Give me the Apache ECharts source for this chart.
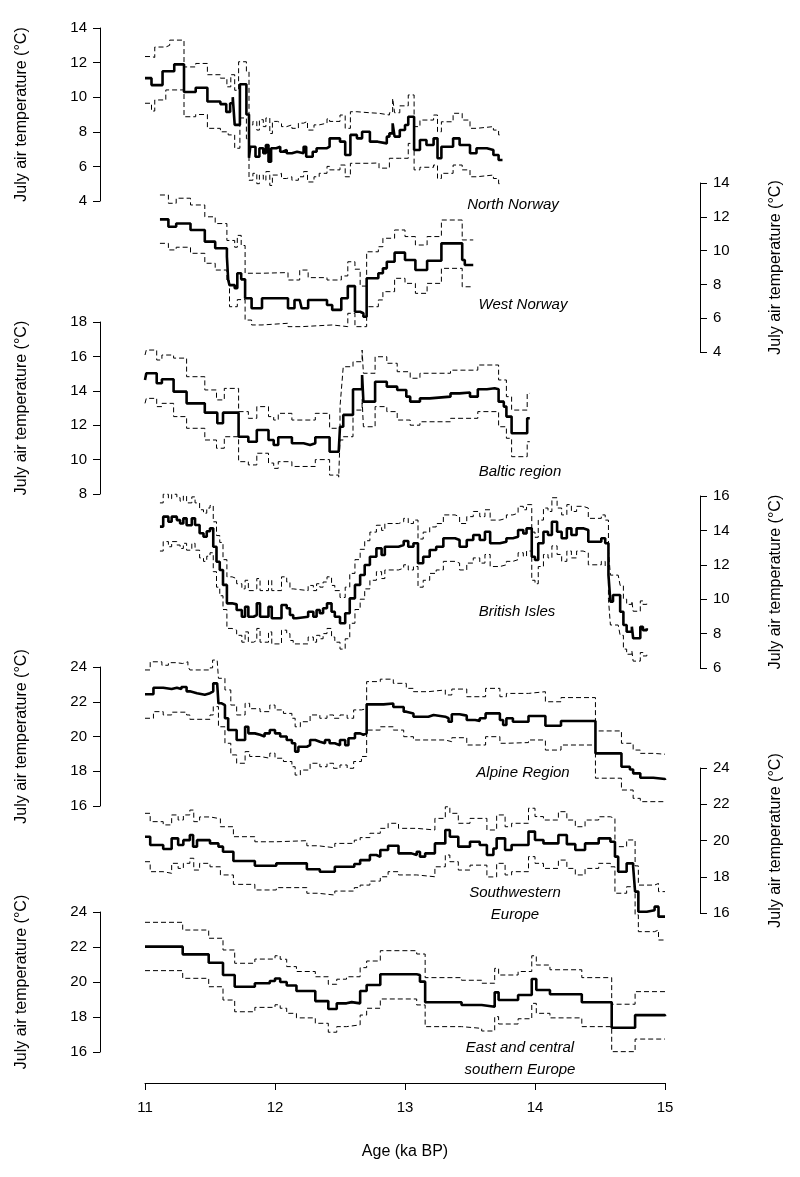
<!DOCTYPE html>
<html>
<head>
<meta charset="utf-8">
<script src="https://cdn.jsdelivr.net/npm/echarts@6/dist/echarts.min.js"></script>
<style>
  html, body { margin: 0; padding: 0; background: #fff; }
  #chart { width: 800px; height: 1177px; }
</style>
</head>
<body>
<div id="chart"></div>
<script>
// [age (ka BP), July air temperature (°C)] step values
const nnMean = [[11.00,11.1],[11.05,10.7],[11.135,11.5],[11.225,11.9],[11.30,10.3],[11.39,10.55],[11.48,9.75],[11.58,9.6],[11.625,9.15],[11.655,9.65],[11.675,10.0],[11.69,8.4],[11.73,10.75],[11.78,9.0],[11.80,6.5],[11.81,7.14],[11.85,6.56],[11.88,7.05],[11.91,6.76],[11.93,7.24],[11.95,6.27],[11.97,7.05],[12.01,7.14],[12.04,6.85],[12.06,6.95],[12.09,6.76],[12.13,6.85],[12.17,6.76],[12.22,7.14],[12.24,6.56],[12.29,6.85],[12.32,7.05],[12.40,7.14],[12.42,7.62],[12.50,7.43],[12.54,6.66],[12.58,7.82],[12.63,7.62],[12.67,8.0],[12.73,7.43],[12.79,7.33],[12.86,7.72],[12.88,7.91],[12.905,8.49],[12.92,7.72],[12.96,8.1],[13.0,8.39],[13.025,8.87],[13.07,6.95],[13.115,7.53],[13.165,7.24],[13.22,7.62],[13.25,6.47],[13.28,7.14],[13.37,7.62],[13.42,7.24],[13.5,6.76],[13.55,7.05],[13.63,6.95],[13.68,6.66],[13.72,6.37],[13.75,6.37]];
const nnUpper = [[11.00,12.35],[11.05,12.3],[11.075,12.9],[11.16,13.0],[11.19,13.3],[11.30,11.75],[11.39,11.95],[11.48,11.3],[11.58,11.1],[11.63,10.6],[11.66,11.3],[11.69,10.4],[11.72,12.05],[11.78,11.5],[11.80,8.4],[11.83,8.6],[11.86,8.1],[11.88,8.7],[11.91,8.3],[11.93,8.8],[11.96,7.9],[11.98,8.6],[12.02,8.5],[12.05,8.3],[12.09,8.4],[12.13,8.2],[12.18,8.5],[12.22,8.6],[12.25,8.1],[12.30,8.4],[12.34,8.5],[12.40,8.75],[12.42,8.6],[12.50,8.97],[12.54,8.2],[12.58,9.16],[12.63,9.1],[12.73,9.07],[12.80,8.97],[12.88,9.1],[12.905,9.93],[12.92,9.1],[12.96,9.5],[13.025,10.13],[13.07,8.3],[13.115,8.68],[13.22,8.97],[13.25,8.0],[13.28,8.58],[13.37,9.07],[13.44,8.68],[13.5,8.2],[13.55,8.3],[13.68,8.1],[13.72,7.82],[13.75,7.82]];
const nnLower = [[11.00,9.65],[11.05,9.2],[11.075,9.84],[11.16,10.42],[11.30,8.87],[11.39,9.0],[11.48,8.2],[11.58,8.0],[11.64,7.82],[11.69,7.05],[11.73,8.8],[11.78,7.6],[11.80,5.2],[11.83,5.6],[11.86,5.0],[11.88,5.5],[11.91,5.2],[11.93,5.7],[11.96,4.9],[11.98,5.5],[12.02,5.6],[12.05,5.3],[12.09,5.4],[12.13,5.2],[12.18,5.4],[12.22,5.7],[12.25,5.1],[12.30,5.4],[12.34,5.6],[12.40,6.0],[12.42,5.8],[12.50,6.08],[12.54,5.4],[12.58,6.18],[12.73,6.2],[12.80,5.9],[12.88,6.47],[12.96,6.47],[13.025,7.33],[13.07,5.8],[13.115,5.95],[13.22,6.08],[13.25,5.3],[13.28,5.6],[13.37,6.08],[13.44,5.8],[13.5,5.4],[13.55,5.5],[13.68,5.3],[13.72,5.0],[13.75,5.0]];

const wnMean = [[11.115,11.85],[11.18,11.41],[11.24,11.6],[11.35,11.22],[11.46,10.53],[11.54,10.14],[11.63,9.64],[11.64,8.26],[11.65,7.96],[11.69,7.77],[11.71,8.66],[11.74,8.3],[11.77,7.18],[11.82,6.59],[11.90,7.18],[12.10,6.59],[12.15,7.08],[12.19,7.18],[12.205,6.59],[12.255,7.08],[12.40,6.78],[12.44,6.49],[12.51,7.18],[12.56,7.9],[12.615,6.38],[12.655,6.29],[12.68,6.09],[12.705,8.36],[12.795,8.66],[12.83,8.95],[12.86,9.34],[12.92,9.88],[13.0,9.44],[13.08,8.85],[13.17,9.4],[13.28,10.43],[13.44,9.44],[13.46,9.15],[13.525,9.15]];
const wnUpper = [[11.115,13.29],[11.18,12.8],[11.24,13.1],[11.35,12.7],[11.46,12.0],[11.54,11.6],[11.63,10.6],[11.69,10.2],[11.71,10.9],[11.74,10.3],[11.77,8.66],[11.90,8.7],[12.10,8.26],[12.19,8.85],[12.255,8.4],[12.40,8.26],[12.51,8.5],[12.56,9.34],[12.615,8.9],[12.655,7.9],[12.705,9.93],[12.795,10.23],[12.83,10.73],[12.92,11.22],[13.0,10.83],[13.08,10.33],[13.17,10.83],[13.28,11.81],[13.44,10.63],[13.525,10.63]];
const wnLower = [[11.115,10.43],[11.18,10.04],[11.24,10.2],[11.35,9.84],[11.46,9.25],[11.54,8.85],[11.63,8.26],[11.65,6.68],[11.71,7.1],[11.77,5.89],[11.82,5.6],[11.90,5.7],[12.10,5.5],[12.205,5.6],[12.44,5.5],[12.56,6.29],[12.615,5.5],[12.705,6.68],[12.795,7.08],[12.83,7.57],[12.92,8.36],[13.0,8.06],[13.08,7.47],[13.17,8.06],[13.28,8.95],[13.44,7.86],[13.525,7.86]];

const brMean = [[11.0,14.63],[11.01,15.02],[11.09,14.44],[11.13,14.67],[11.22,13.95],[11.32,13.27],[11.46,12.73],[11.556,12.11],[11.60,12.73],[11.72,11.33],[11.795,11.04],[11.86,11.72],[11.95,11.14],[11.99,10.85],[12.025,11.3],[12.13,10.95],[12.22,10.85],[12.27,10.95],[12.31,11.3],[12.42,10.46],[12.49,10.37],[12.50,11.91],[12.525,12.6],[12.60,14.09],[12.67,14.92],[12.68,13.37],[12.77,14.53],[12.86,14.24],[12.94,14.05],[13.01,13.66],[13.04,13.37],[13.115,13.56],[13.19,13.66],[13.35,13.85],[13.42,13.9],[13.5,13.66],[13.56,14.09],[13.63,14.15],[13.69,14.09],[13.72,13.37],[13.76,13.08],[13.78,12.5],[13.82,11.53],[13.94,12.4],[13.96,12.4]];
const brUpper = [[11.0,16.08],[11.01,16.37],[11.09,15.79],[11.13,16.08],[11.22,15.9],[11.32,14.82],[11.46,14.05],[11.55,13.47],[11.61,14.14],[11.72,12.79],[11.795,12.4],[11.86,13.08],[11.95,12.5],[11.99,12.3],[12.025,12.69],[12.13,12.3],[12.31,12.69],[12.42,11.82],[12.50,13.08],[12.51,14.0],[12.525,15.4],[12.60,15.69],[12.67,16.37],[12.68,15.02],[12.77,15.98],[12.86,15.6],[12.94,15.11],[13.04,14.73],[13.115,15.02],[13.35,15.2],[13.56,15.5],[13.72,14.63],[13.78,13.66],[13.82,12.88],[13.94,13.85],[13.96,13.85]];
const brLower = [[11.0,13.27],[11.01,13.56],[11.09,13.08],[11.13,13.27],[11.22,12.5],[11.32,11.82],[11.46,11.14],[11.55,10.66],[11.61,11.33],[11.72,9.88],[11.795,9.69],[11.86,10.37],[11.95,9.8],[11.99,9.49],[12.025,9.88],[12.13,9.6],[12.31,10.0],[12.42,9.1],[12.49,8.98],[12.50,11.14],[12.525,11.33],[12.60,12.88],[12.67,13.5],[12.68,11.91],[12.77,13.08],[12.86,12.79],[12.94,12.3],[13.04,12.0],[13.115,12.2],[13.35,12.4],[13.56,12.79],[13.72,11.91],[13.78,11.24],[13.82,10.17],[13.94,11.04],[13.96,11.04]];

const biMean = [[11.115,14.22],[11.14,14.8],[11.18,14.5],[11.205,14.8],[11.245,14.6],[11.27,14.4],[11.295,14.7],[11.32,14.3],[11.36,14.7],[11.385,14.31],[11.42,13.83],[11.45,13.63],[11.475,13.95],[11.50,14.12],[11.525,13.05],[11.55,12.18],[11.575,11.7],[11.60,10.83],[11.63,9.76],[11.67,9.7],[11.705,9.37],[11.745,8.98],[11.77,9.56],[11.795,8.98],[11.835,9.08],[11.86,9.76],[11.885,8.98],[11.95,9.56],[11.975,8.89],[12.05,9.66],[12.09,9.47],[12.115,9.08],[12.14,8.89],[12.165,8.98],[12.255,9.27],[12.295,8.98],[12.32,9.37],[12.345,9.18],[12.37,9.47],[12.40,9.76],[12.435,9.27],[12.46,8.98],[12.50,8.6],[12.54,9.18],[12.575,10.05],[12.615,10.83],[12.655,11.41],[12.69,11.99],[12.73,12.47],[12.78,12.96],[12.82,12.57],[12.845,13.05],[12.95,13.15],[12.99,13.38],[13.025,13.05],[13.065,13.25],[13.10,12.09],[13.14,12.47],[13.19,12.86],[13.24,13.05],[13.295,13.54],[13.385,13.44],[13.42,13.05],[13.475,13.44],[13.525,13.73],[13.575,13.44],[13.615,13.92],[13.655,13.25],[13.73,13.34],[13.78,13.54],[13.83,13.63],[13.87,14.02],[13.91,13.82],[13.935,14.12],[13.975,12.47],[14.0,12.28],[14.025,13.25],[14.065,13.92],[14.10,13.73],[14.13,14.5],[14.17,13.92],[14.205,13.54],[14.245,14.12],[14.28,13.73],[14.32,14.12],[14.37,14.02],[14.41,13.34],[14.51,13.54],[14.54,13.25],[14.565,11.41],[14.58,9.86],[14.60,10.24],[14.655,9.27],[14.68,8.5],[14.705,8.11],[14.745,8.4],[14.755,7.73],[14.81,8.4],[14.83,8.2],[14.86,8.31]];
const biUpper = [[11.115,15.6],[11.14,16.1],[11.18,15.85],[11.205,16.1],[11.245,15.9],[11.27,15.7],[11.295,16.0],[11.32,15.6],[11.36,15.95],[11.385,15.6],[11.42,15.2],[11.45,15.0],[11.475,15.3],[11.50,15.45],[11.525,14.5],[11.55,13.7],[11.575,13.3],[11.60,12.3],[11.63,11.3],[11.67,11.2],[11.705,10.9],[11.745,10.6],[11.77,11.1],[11.795,10.5],[11.835,10.6],[11.86,11.2],[11.885,10.5],[11.95,11.1],[11.975,10.5],[12.05,11.3],[12.09,11.0],[12.115,10.6],[12.14,10.5],[12.255,10.8],[12.295,10.5],[12.32,10.9],[12.345,10.7],[12.37,11.0],[12.40,11.3],[12.435,10.8],[12.46,10.5],[12.50,10.1],[12.54,10.7],[12.575,11.5],[12.615,12.3],[12.655,12.9],[12.69,13.4],[12.73,13.9],[12.78,14.3],[12.82,14.0],[12.845,14.4],[12.95,14.5],[12.99,14.7],[13.025,14.4],[13.065,14.6],[13.10,13.5],[13.14,13.9],[13.19,14.2],[13.24,14.4],[13.295,14.9],[13.385,14.8],[13.42,14.4],[13.475,14.8],[13.525,15.1],[13.575,14.8],[13.615,15.2],[13.655,14.6],[13.73,14.7],[13.78,14.9],[13.83,15.0],[13.87,15.4],[13.91,15.2],[13.935,15.5],[13.975,13.9],[14.0,13.6],[14.025,14.6],[14.065,15.3],[14.10,15.1],[14.13,15.9],[14.17,15.3],[14.205,14.9],[14.245,15.5],[14.28,15.1],[14.32,15.4],[14.37,15.3],[14.41,14.7],[14.51,14.9],[14.54,14.6],[14.565,12.8],[14.58,11.4],[14.64,11.4],[14.655,10.8],[14.68,10.0],[14.705,9.7],[14.745,9.9],[14.755,9.3],[14.81,9.9],[14.83,9.7],[14.86,9.8]];
const biLower = [[11.115,12.8],[11.14,13.35],[11.18,13.05],[11.205,13.35],[11.245,13.15],[11.27,12.95],[11.295,13.25],[11.32,12.85],[11.36,13.25],[11.385,12.85],[11.42,12.4],[11.45,12.2],[11.475,12.5],[11.50,12.7],[11.525,11.6],[11.55,10.7],[11.575,10.2],[11.60,9.4],[11.63,8.3],[11.67,8.2],[11.705,7.9],[11.745,7.5],[11.77,8.1],[11.795,7.5],[11.835,7.6],[11.86,8.3],[11.885,7.5],[11.95,8.1],[11.975,7.4],[12.05,8.2],[12.09,8.0],[12.115,7.6],[12.14,7.4],[12.255,7.8],[12.295,7.5],[12.32,7.9],[12.345,7.7],[12.37,8.0],[12.40,8.3],[12.435,7.8],[12.46,7.5],[12.50,7.1],[12.54,7.7],[12.575,8.6],[12.615,9.4],[12.655,10.0],[12.69,10.6],[12.73,11.1],[12.78,11.6],[12.82,11.2],[12.845,11.7],[12.95,11.8],[12.99,12.0],[13.025,11.7],[13.065,11.9],[13.10,10.7],[13.14,11.1],[13.19,11.5],[13.24,11.7],[13.295,12.2],[13.385,12.1],[13.42,11.7],[13.475,12.1],[13.525,12.4],[13.575,12.1],[13.615,12.6],[13.655,11.9],[13.73,12.0],[13.78,12.2],[13.83,12.3],[13.87,12.7],[13.91,12.5],[13.935,12.8],[13.975,11.1],[14.0,10.9],[14.025,11.9],[14.065,12.6],[14.10,12.4],[14.13,13.1],[14.17,12.6],[14.205,12.2],[14.245,12.8],[14.28,12.4],[14.32,12.8],[14.37,12.7],[14.41,12.0],[14.51,12.2],[14.54,11.9],[14.565,10.0],[14.58,8.5],[14.64,8.5],[14.655,7.9],[14.68,7.1],[14.705,6.8],[14.745,7.0],[14.755,6.4],[14.81,6.9],[14.83,6.7],[14.86,6.8]];

const alMean = [[11.0,22.43],[11.065,22.81],[11.14,22.73],[11.205,22.81],[11.245,22.73],[11.28,22.85],[11.32,22.6],[11.345,22.49],[11.40,22.4],[11.46,22.49],[11.50,22.6],[11.525,23.06],[11.555,22.95],[11.565,21.91],[11.59,21.8],[11.615,21.05],[11.64,20.37],[11.705,19.8],[11.77,20.56],[11.795,20.18],[11.845,20.1],[11.885,20.0],[11.92,20.18],[11.96,20.37],[12.0,20.18],[12.04,20.0],[12.09,19.8],[12.13,19.61],[12.155,19.13],[12.18,19.41],[12.245,19.5],[12.27,19.8],[12.31,19.7],[12.345,19.61],[12.385,19.8],[12.42,19.61],[12.46,19.5],[12.50,19.8],[12.54,19.5],[12.565,19.9],[12.615,20.18],[12.655,20.1],[12.68,20.18],[12.705,21.85],[12.835,21.9],[12.91,21.7],[12.99,21.43],[13.01,21.33],[13.065,21.14],[13.18,21.24],[13.22,21.14],[13.31,21.05],[13.335,20.85],[13.36,21.28],[13.42,21.2],[13.475,20.95],[13.54,20.9],[13.575,21.05],[13.62,21.33],[13.69,21.33],[13.73,20.95],[13.755,20.66],[13.78,21.05],[13.83,20.85],[13.95,21.18],[14.08,20.62],[14.20,20.89],[14.465,19.03],[14.665,18.26],[14.73,18.1],[14.755,17.88],[14.81,17.63],[14.91,17.55],[15.0,17.5]];
const alUpper = [[11.0,23.83],[11.04,24.3],[11.13,24.1],[11.18,24.25],[11.24,24.2],[11.29,24.3],[11.33,24.05],[11.345,23.83],[11.50,23.95],[11.52,24.4],[11.555,24.45],[11.565,23.35],[11.615,22.68],[11.66,21.81],[11.705,21.24],[11.77,21.91],[11.805,21.6],[11.885,21.43],[11.96,21.81],[12.0,21.53],[12.065,21.33],[12.13,21.05],[12.155,20.56],[12.195,20.85],[12.27,21.24],[12.345,21.05],[12.40,21.24],[12.45,21.05],[12.50,21.24],[12.555,21.05],[12.605,21.53],[12.665,21.6],[12.705,23.16],[12.81,23.3],[12.91,23.06],[13.01,22.77],[13.065,22.58],[13.18,22.68],[13.31,22.39],[13.36,22.73],[13.475,22.29],[13.62,22.77],[13.73,22.29],[13.78,22.48],[13.95,22.58],[14.08,22.0],[14.20,22.24],[14.465,20.32],[14.665,19.61],[14.755,19.22],[14.81,19.03],[14.91,18.98],[15.0,18.94]];
const alLower = [[11.0,21.05],[11.065,21.43],[11.14,21.24],[11.205,21.4],[11.32,21.24],[11.345,20.99],[11.50,21.24],[11.525,21.72],[11.565,20.56],[11.615,19.61],[11.66,18.94],[11.705,18.46],[11.77,19.13],[11.805,18.85],[11.885,18.75],[11.96,19.04],[12.0,18.75],[12.065,18.56],[12.13,18.26],[12.155,17.78],[12.195,18.07],[12.27,18.46],[12.345,18.26],[12.40,18.46],[12.45,18.17],[12.50,18.36],[12.555,18.17],[12.605,18.56],[12.665,18.85],[12.705,20.37],[12.81,20.56],[12.91,20.37],[12.99,19.99],[13.065,19.8],[13.31,19.7],[13.36,19.93],[13.475,19.51],[13.62,19.99],[13.73,19.61],[13.78,19.65],[13.95,19.8],[14.08,19.22],[14.20,19.51],[14.465,17.6],[14.665,16.92],[14.755,16.44],[14.81,16.25],[15.0,16.19]];

const swMean = [[11.0,20.21],[11.04,19.75],[11.14,19.53],[11.205,20.12],[11.255,19.75],[11.295,20.02],[11.345,20.3],[11.37,19.66],[11.40,20.02],[11.50,19.84],[11.565,19.66],[11.60,19.38],[11.68,18.87],[11.845,18.61],[12.01,18.74],[12.245,18.41],[12.345,18.28],[12.46,18.55],[12.61,18.7],[12.655,18.92],[12.73,19.2],[12.78,19.1],[12.81,19.48],[12.87,19.71],[12.95,19.29],[13.05,19.2],[13.09,19.38],[13.115,19.11],[13.155,19.29],[13.23,19.84],[13.31,20.58],[13.345,20.21],[13.41,19.66],[13.50,19.93],[13.575,19.75],[13.63,19.2],[13.68,19.56],[13.705,20.12],[13.77,19.48],[13.82,19.75],[13.95,20.49],[14.0,20.03],[14.065,19.84],[14.18,20.3],[14.245,19.8],[14.31,19.48],[14.385,19.84],[14.49,20.12],[14.58,19.93],[14.615,19.11],[14.64,18.28],[14.705,18.74],[14.755,18.55],[14.77,17.18],[14.795,16.07],[14.86,16.15],[14.92,16.35],[14.95,15.8],[15.0,15.8]];
const swUpper = [[11.0,21.5],[11.04,21.04],[11.14,20.86],[11.205,21.41],[11.255,21.13],[11.295,21.41],[11.345,21.68],[11.375,21.04],[11.42,21.3],[11.50,21.2],[11.58,20.76],[11.68,20.21],[11.845,19.93],[12.01,19.99],[12.245,19.71],[12.33,19.6],[12.46,19.84],[12.61,20.02],[12.655,20.16],[12.73,20.4],[12.81,20.67],[12.87,20.95],[12.95,20.67],[13.09,20.58],[13.23,21.22],[13.31,21.86],[13.345,21.5],[13.41,20.95],[13.50,21.22],[13.63,20.58],[13.705,21.41],[13.77,20.76],[13.82,20.95],[13.95,21.78],[14.0,21.32],[14.065,21.13],[14.18,21.59],[14.245,21.13],[14.31,20.76],[14.385,21.13],[14.49,21.31],[14.58,21.22],[14.615,19.66],[14.705,20.03],[14.77,18.6],[14.795,17.54],[14.92,17.63],[14.95,17.18],[15.0,17.18]];
const swLower = [[11.0,18.83],[11.04,18.28],[11.14,18.19],[11.205,18.74],[11.255,18.46],[11.295,18.74],[11.345,19.02],[11.375,18.37],[11.42,18.74],[11.50,18.55],[11.58,18.1],[11.68,17.58],[11.845,17.27],[12.01,17.4],[12.245,17.09],[12.33,16.99],[12.46,17.21],[12.61,17.4],[12.655,17.54],[12.73,17.76],[12.81,18.0],[12.87,18.28],[12.95,18.1],[13.09,18.0],[13.23,18.55],[13.31,19.2],[13.345,18.83],[13.41,18.37],[13.50,18.64],[13.63,17.99],[13.705,18.74],[13.77,18.1],[13.82,18.28],[13.95,19.11],[14.0,18.74],[14.065,18.46],[14.18,18.92],[14.245,18.46],[14.31,18.1],[14.385,18.46],[14.49,18.74],[14.58,18.55],[14.615,17.09],[14.705,17.45],[14.77,15.9],[14.795,14.97],[14.92,15.06],[14.95,14.51],[15.0,14.51]];

const ecMean = [[11.0,22.02],[11.29,21.58],[11.49,21.1],[11.60,20.4],[11.69,19.73],[11.845,19.93],[11.96,20.06],[12.0,20.2],[12.04,20.0],[12.09,19.8],[12.165,19.49],[12.31,18.91],[12.41,18.46],[12.475,18.78],[12.55,18.85],[12.59,18.78],[12.655,19.49],[12.705,19.83],[12.81,20.44],[13.09,20.4],[13.115,20.02],[13.155,18.84],[13.435,18.69],[13.59,18.59],[13.69,19.41],[13.72,18.97],[13.87,19.26],[13.975,20.17],[14.01,19.54],[14.115,19.3],[14.36,18.84],[14.59,17.39],[14.77,18.11],[15.0,18.05]];
const ecUpper = [[11.0,23.41],[11.29,22.97],[11.49,22.5],[11.60,21.83],[11.69,21.07],[11.845,21.31],[12.0,21.5],[12.04,21.3],[12.09,20.88],[12.165,20.6],[12.31,20.3],[12.41,19.87],[12.475,20.16],[12.55,20.3],[12.655,20.82],[12.705,21.2],[12.81,21.79],[13.09,21.6],[13.155,20.25],[13.435,20.1],[13.59,19.93],[13.69,20.78],[13.72,20.4],[13.87,20.6],[13.975,21.5],[14.01,20.97],[14.115,20.7],[14.36,20.25],[14.59,18.73],[14.77,19.45],[15.0,19.4]];
const ecLower = [[11.0,20.65],[11.29,20.21],[11.49,19.73],[11.60,18.97],[11.69,18.3],[11.845,18.55],[12.0,18.7],[12.04,18.5],[12.09,18.21],[12.165,17.95],[12.31,17.64],[12.41,17.13],[12.475,17.45],[12.55,17.55],[12.655,18.11],[12.705,18.5],[12.81,19.03],[13.09,18.69],[13.155,17.45],[13.435,17.35],[13.59,17.2],[13.69,18.02],[13.72,17.6],[13.87,17.9],[13.975,18.78],[14.01,18.21],[14.115,17.95],[14.36,17.45],[14.59,16.02],[14.77,16.74],[15.0,16.74]];

const ageTicks = [11, 12, 13, 14, 15];
const regionNames = [['North Norway'], ['West Norway'], ['Baltic region'], ['British Isles'], ['Alpine Region'], ['Southwestern', 'Europe'], ['East and central', 'southern Europe']];
const yRanges = [[4, 14], [4, 14], [8, 18], [6, 16], [16, 24], [16, 24], [16, 24]];
const yName = 'July air temperature (°C)';

// layout of the stacked panels (pixels)
const layout = [
  { series: [nnMean, nnUpper, nnLower], top: 28, height: 173, side: 'left', lx: 513, ly: 205 },
  { series: [wnMean, wnUpper, wnLower], top: 183, height: 169, side: 'right', lx: 523, ly: 305 },
  { series: [brMean, brUpper, brLower], top: 322, height: 172, side: 'left', lx: 520, ly: 472 },
  { series: [biMean, biUpper, biLower], top: 496, height: 172, side: 'right', lx: 517, ly: 612 },
  { series: [alMean, alUpper, alLower], top: 667, height: 139, side: 'left', lx: 523, ly: 773 },
  { series: [swMean, swUpper, swLower], top: 768, height: 145, side: 'right', lx: 515, ly: 893 },
  { series: [ecMean, ecUpper, ecLower], top: 912, height: 140, side: 'left', lx: 520, ly: 1048 }
];

const FONT = '"Liberation Sans", Arial, Helvetica, sans-serif';
const last = layout.length - 1;

const grid = layout.map(p => ({ left: 145, right: 135, top: p.top, height: p.height }));

const xAxis = layout.map((p, i) => ({
  type: 'value', gridIndex: i, min: 11, max: 15, interval: 1,
  show: i === last,
  position: 'bottom',
  offset: 31,
  name: i === last ? 'Age (ka BP)' : '',
  nameLocation: 'middle', nameGap: 61,
  nameTextStyle: { fontSize: 16, color: '#000', fontFamily: FONT },
  axisLine: { onZero: false, lineStyle: { color: '#000', width: 1 } },
  axisTick: { length: 7, lineStyle: { color: '#000' } },
  axisLabel: { fontSize: 15, color: '#000', margin: 17, fontFamily: FONT,
    formatter: v => ageTicks.includes(v) ? String(v) : '' },
  splitLine: { show: false }
}));

const yAxis = layout.map((p, i) => ({
  type: 'value', gridIndex: i, min: yRanges[i][0], max: yRanges[i][1], interval: 2,
  position: p.side,
  offset: p.side === 'left' ? 45 : 35,
  name: yName, nameLocation: 'middle', nameRotate: 90,
  nameGap: p.side === 'left' ? 70 : 68,
  nameTextStyle: { fontSize: 16, color: '#000', fontFamily: FONT },
  axisLine: { show: true, lineStyle: { color: '#000', width: 1 } },
  axisTick: { show: true, length: 7, lineStyle: { color: '#000' } },
  axisLabel: { fontSize: 15, color: '#000', margin: 13, fontFamily: FONT },
  splitLine: { show: false }
}));

const series = [];
layout.forEach((p, i) => {
  p.series.forEach((data, k) => {
    series.push({
      type: 'line', xAxisIndex: i, yAxisIndex: i, data,
      step: 'end', showSymbol: false, symbol: 'none', clip: false, silent: true,
      lineStyle: k === 0
        ? { color: '#000', width: 2.6 }
        : { color: '#000', width: 1, type: [5, 3] },
      z: k === 0 ? 3 : 2
    });
  });
});

const graphic = [];
layout.forEach((p, i) => {
  regionNames[i].forEach((txt, j) => {
    graphic.push({
      type: 'text', x: p.lx, y: p.ly + j * 22,
      style: { text: txt, fontSize: 15, fontStyle: 'italic', fontFamily: FONT,
        fill: '#000', align: 'center', verticalAlign: 'middle' }
    });
  });
});

const chart = echarts.init(document.getElementById('chart'), null, { renderer: 'canvas' });
chart.setOption({
  animation: false,
  backgroundColor: '#fff',
  grid, xAxis, yAxis, series, graphic
});
</script>
</body>
</html>
